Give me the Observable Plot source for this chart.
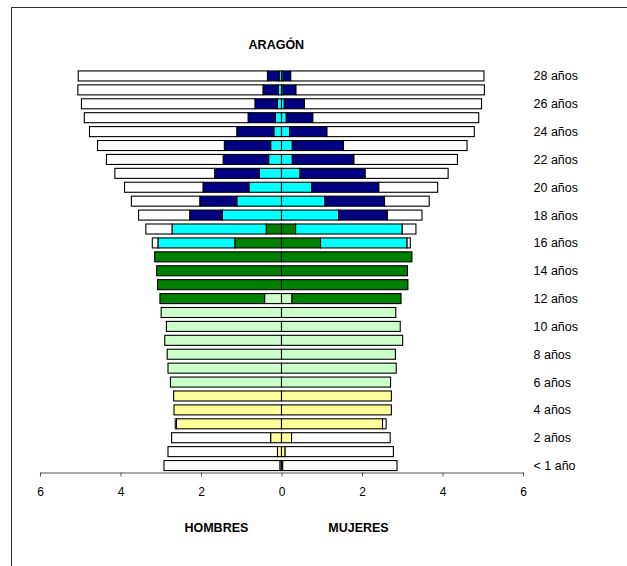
<!DOCTYPE html>
<html>
<head>
<meta charset="utf-8">
<script src="https://cdn.jsdelivr.net/npm/d3@7"></script>
<script src="https://cdn.jsdelivr.net/npm/@observablehq/plot@0.6"></script>
<style>
  html, body { margin: 0; padding: 0; background: #fff; overflow: hidden; }
  #wrap { position: relative; width: 627px; height: 566px; }
  #wrap svg { position: absolute; left: 0; top: 0; }
  #border { position: absolute; left: 11px; top: 7px; width: 700px; height: 700px; z-index: 2;
            border-left: 1.5px solid #333; border-top: 1.5px solid #333; pointer-events: none; }
</style>
</head>
<body>
<div id="wrap"></div>
<script>
// ---- Data (millares de personas) ----
const title = "ARAGÓN";
const sexLabels = ["HOMBRES", "MUJERES"];
const ages = d3.range(0, 29); // 0 .. 28
const labelAges = [28, 26, 24, 22, 20, 18, 16, 14, 12, 10, 8, 6, 4, 2, 0];
const xTicks = [-6, -4, -2, 0, 2, 4, 6];

const levels = ["Educación infantil", "Educación primaria", "ESO",
                "Bachillerato y FP", "Estudios universitarios", "No escolarizados"];
const levelColors = ["#FFFF99", "#CCFFCC", "#008000", "#00FFFF", "#000080", "#FFFFFF"];

// Hombres, por edad 0..28
const menInfantil  = [0.04,0.10,0.27,2.61,2.67,2.68,0,0,0,0,0,0,0,0,0,0,0,0,0,0,0,0,0,0,0,0,0,0,0];
const menPrimaria  = [0,0,0,0,0,0,2.76,2.82,2.84,2.90,2.86,2.99,0.42,0,0,0,0,0,0,0,0,0,0,0,0,0,0,0,0];
const menESO       = [0,0,0,0,0,0,0,0,0,0,0,0,2.60,3.08,3.10,3.15,1.16,0.38,0,0,0,0,0,0,0,0,0,0,0];
const menBachFP    = [0,0,0,0,0,0,0,0,0,0,0,0,0,0,0,0,1.91,2.34,1.47,1.11,0.81,0.55,0.32,0.27,0.19,0.15,0.10,0.08,0.06];
const menUniv      = [0,0,0,0,0,0,0,0,0,0,0,0,0,0,0,0,0,0,0.81,0.92,1.14,1.11,1.13,1.15,0.92,0.68,0.56,0.38,0.29];
const menNoEsc     = [2.88,2.72,2.46,0.03,0,0,0,0,0,0,0,0,0,0,0,0,0.14,0.65,1.27,1.70,1.95,2.48,2.90,3.15,3.66,4.07,4.31,4.60,4.70];

// Mujeres, por edad 0..28
const womenInfantil = [0.03,0.09,0.25,2.51,2.73,2.73,0,0,0,0,0,0,0,0,0,0,0,0,0,0,0,0,0,0,0,0,0,0,0];
const womenPrimaria = [0,0,0,0,0,0,2.71,2.85,2.83,3.01,2.95,2.84,0.26,0,0,0,0,0,0,0,0,0,0,0,0,0,0,0,0];
const womenESO      = [0,0,0,0,0,0,0,0,0,0,0,0,2.71,3.14,3.13,3.24,0.97,0.35,0,0,0,0,0,0,0,0,0,0,0];
const womenBachFP   = [0,0,0,0,0,0,0,0,0,0,0,0,0,0,0,0,2.15,2.65,1.42,1.08,0.75,0.46,0.27,0.27,0.20,0.12,0.07,0.04,0.04];
const womenUniv     = [0,0,0,0,0,0,0,0,0,0,0,0,0,0,0,0,0,0,1.21,1.48,1.67,1.62,1.53,1.27,0.93,0.66,0.50,0.32,0.19];
const womenNoEsc    = [2.84,2.69,2.45,0.09,0,0,0,0,0,0,0,0,0,0,0,0,0.08,0.34,0.86,1.11,1.46,2.06,2.57,3.07,3.66,4.12,4.40,4.68,4.80];

const menSeries = [menInfantil, menPrimaria, menESO, menBachFP, menUniv, menNoEsc];
const womenSeries = [womenInfantil, womenPrimaria, womenESO, womenBachFP, womenUniv, womenNoEsc];

// ---- Long table ----
const rows = [];
ages.forEach((age, i) => {
  levels.forEach((level, j) => {
    if (menSeries[j][i] > 0) rows.push({age, sex: "H", level, value: -menSeries[j][i]});
    if (womenSeries[j][i] > 0) rows.push({age, sex: "M", level, value: womenSeries[j][i]});
  });
});

const font = "'Liberation Sans', Arial, sans-serif";

const chart = Plot.plot({
  width: 627,
  height: 566,
  marginLeft: 40,
  marginRight: 104,
  marginTop: 69,
  marginBottom: 93.5,
  style: {fontFamily: font, fontSize: "12px", color: "#000", background: "#fff"},
  x: {domain: [-6, 6], axis: null},
  y: {type: "band", domain: ages.slice().reverse(), paddingInner: 0.28, paddingOuter: 0.14,
      round: false, axis: null},
  color: {domain: levels, range: levelColors},
  marks: [
    Plot.barX(rows, Plot.stackX({
      x: "value", y: "age", z: "level", fill: "level", order: levels,
      stroke: "#000", strokeWidth: 1.1
    })),
    Plot.frame({anchor: "bottom", stroke: "#555", strokeWidth: 1.2}),
    Plot.axisX({ticks: xTicks, tickFormat: d => Math.abs(d), tickSize: 4, tickPadding: 10,
                stroke: "#555", fontSize: 12, fill: "#000", label: null}),
    Plot.axisY({anchor: "right", ticks: labelAges, tickSize: 0, tickPadding: 10, fontSize: 12.5,
                tickFormat: d => d === 0 ? "< 1 año" : `${d} años`, fill: "#000", label: null}),
    Plot.text([title], {x: [-0.14], frameAnchor: "top", dy: -29, text: d => d,
                        fontWeight: "bold", fontSize: 12.5}),
    Plot.text(sexLabels, {x: [-1.63, 1.9], frameAnchor: "bottom", dy: 59, text: d => d,
                          fontWeight: "bold", fontSize: 12.5})
  ]
});

const wrap = document.getElementById("wrap");
wrap.appendChild(chart);
const border = document.createElement("div");
border.id = "border";
wrap.appendChild(border);
</script>
</body>
</html>
